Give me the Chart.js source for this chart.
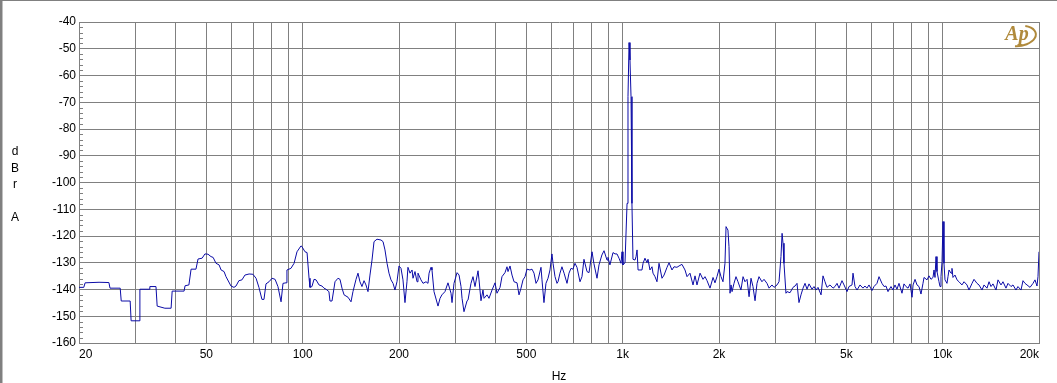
<!DOCTYPE html>
<html>
<head>
<meta charset="utf-8">
<script src="https://cdn.jsdelivr.net/npm/chart.js@4/dist/chart.umd.min.js"></script>
<style>
  html, body { margin: 0; padding: 0; background: #ffffff; }
  #wrap { position: relative; width: 1057px; height: 383px; }
</style>
</head>
<body>
<div id="wrap"><canvas id="c" width="1057" height="383"></canvas></div>
<script>
// ---- data ----
const freqHz = [
  20, 20.7, 20.9, 23.1, 24.8, 25.0, 26.9, 27.1, 28.9, 29.1, 30.8, 31.0, 33.1, 33.3, 34.8, 35.1, 37.1, 38.8, 39.1, 42.6,
  42.9, 44.1, 44.8, 46.4, 47.1, 48.5, 49.5, 50.6, 51.7, 52.5, 53.6, 54.8, 55.6, 56.8, 57.6, 59.7, 61.0, 61.9, 63.2, 64.6,
  66.0, 68.0, 69.9, 71.5, 73.0, 74.6, 75.7, 76.8, 78.5, 80.2, 82.0, 83.7, 85.6, 86.8, 88.7, 89.3, 91.9, 94.0, 96.0, 98.8,
  99.5, 101.7, 103.2, 104.7, 105.4, 106.9, 108.5, 110.1, 112.5, 114.9, 116.6, 118.3, 120.8, 121.7, 123.5, 126.2, 128.9, 130.8, 132.7, 134.7,
  138.6, 141.6, 143.6, 146.8, 148.9, 151.0, 153.2, 155.5, 157.7, 160.0, 162.3, 164.7, 167.1, 170.7, 175.7, 178.3, 180.8, 183.5, 186.1, 188.8,
  191.6, 194.3, 197.1, 200, 202.9, 205.8, 208.8, 211.8, 213.3, 216.5, 219.7, 221.2, 224.4, 227.7, 229.3, 234.2, 237.8, 242.9, 246.4, 248.3,
  251.8, 253.6, 257.3, 264.8, 268.7, 272.4, 278.4, 284.5, 290.8, 292.9, 297.1, 303.7, 308.1, 312.5, 314.8, 319.2, 326.4, 328.7, 335.7, 340.6,
  345.6, 353.2, 355.7, 360.8, 366.0, 368.8, 376.7, 382.2, 390.6, 399.1, 404.8, 413.8, 419.6, 428.8, 435.0, 438.2, 444.6, 451.0, 457.6, 467.6,
  474.3, 481.2, 488.2, 495.3, 502.4, 513.0, 520.8, 528.4, 536.0, 543.8, 555.6, 559.6, 567.6, 575.8, 584.4, 592.8, 601.2, 605.8, 614.6, 623.4,
  628.0, 637.0, 646.0, 656.0, 670.0, 679.6, 689.4, 699.4, 709.6, 719.8, 735.6, 746.2, 757.0, 773.6, 785.0, 802.2, 812.8, 831.4, 843.4, 861.2,
  874.4, 893.4, 899.6, 912.4, 932.8, 946.4, 960.0, 974.0, 988.0, 995.4, 1002, 1017, 1032, 1039, 1047, 1054, 1062, 1069, 1077, 1093,
  1101, 1109, 1117, 1149, 1158, 1174, 1191, 1200, 1217, 1235, 1244, 1262, 1280, 1299, 1327, 1347, 1376, 1396, 1426, 1447,
  1478, 1500, 1532, 1566, 1589, 1623, 1659, 1683, 1707, 1745, 1783, 1808, 1835, 1875, 1916, 1943, 1971, 2000, 2029, 2058,
  2088, 2104, 2133, 2149, 2165, 2181, 2197, 2228, 2260, 2293, 2342, 2378, 2411, 2447, 2483, 2518, 2554, 2592, 2629, 2667,
  2724, 2765, 2825, 2867, 2928, 2972, 3036, 3080, 3124, 3149, 3170, 3192, 3238, 3263, 3334, 3406, 3456, 3506, 3556, 3608,
  3661, 3714, 3768, 3822, 3906, 3962, 4020, 4078, 4168, 4227, 4288, 4350, 4446, 4543, 4608, 4676, 4743, 4846, 4918, 5024,
  5096, 5208, 5246, 5322, 5400, 5517, 5636, 5717, 5800, 5886, 6012, 6101, 6234, 6325, 6460, 6560, 6651, 6748, 6894, 6994,
  7096, 7198, 7304, 7462, 7570, 7679, 7795, 7908, 8022, 8081, 8197, 8314, 8434, 8556, 8680, 8743, 8934, 9064, 9194, 9328,
  9396, 9464, 9532, 9600, 9740, 9810, 9880, 9954, 10024, 10094, 10170, 10316, 10390, 10466, 10618, 10692, 10770, 10928, 11088, 11246,
  11486, 11662, 11914, 12084, 12352, 12530, 12802, 12988, 13272, 13466, 13758, 13960, 14158, 14362, 14678, 14890, 15214, 15434, 15772, 16000,
  16352, 16588, 16944, 17188, 17572, 17826, 18084, 18346, 18748, 19156, 19432, 19714, 19856, 20000
];
const levelDbrA = [
  -139.2, -139.2, -137.5, -137.3, -137.4, -139.5, -139.5, -144.3, -144.3, -151.7, -151.7, -139.9, -139.9, -138.9, -138.9, -146.2, -147.0, -147.0, -140.6, -140.6,
  -138.6, -138.3, -132.4, -132.4, -128.6, -128.3, -126.7, -126.8, -127.7, -128.0, -130.2, -130.8, -132.7, -133.3, -135.2, -138.7, -139.2, -138.7, -136.7, -136.4,
  -134.6, -134.2, -134.3, -135.8, -139.2, -143.7, -143.7, -137.9, -137.1, -135.8, -136.2, -138.9, -144.6, -137.7, -137.5, -132.7, -132.1, -130.2, -125.9, -123.7,
  -124.0, -125.9, -126.2, -135.8, -139.2, -138.9, -136.2, -136.4, -138.3, -138.7, -139.5, -139.9, -140.8, -144.3, -144.3, -137.1, -135.8, -136.2, -139.5, -142.0,
  -142.9, -144.6, -140.8, -136.2, -133.9, -137.1, -138.9, -136.7, -138.3, -140.8, -134.6, -129.0, -122.1, -121.2, -121.5, -122.1, -125.2, -130.2, -133.9, -136.4,
  -137.7, -140.2, -137.1, -131.2, -132.1, -136.4, -144.9, -137.1, -131.7, -133.9, -132.7, -135.8, -133.3, -137.1, -133.9, -136.4, -137.7, -137.1, -137.7, -133.9,
  -131.7, -132.7, -140.8, -146.2, -143.3, -142.0, -140.8, -137.5, -141.4, -144.9, -137.7, -133.7, -134.6, -138.9, -143.3, -148.3, -144.2, -143.9, -137.7, -135.2,
  -138.9, -133.0, -136.4, -144.2, -140.2, -143.3, -142.0, -143.3, -140.2, -137.5, -141.4, -139.2, -135.2, -133.7, -131.5, -133.3, -131.2, -134.6, -137.1, -137.5,
  -142.0, -139.5, -136.4, -135.2, -132.4, -132.7, -132.4, -133.9, -137.7, -136.4, -131.7, -136.4, -144.9, -137.7, -135.8, -132.7, -126.7, -130.2, -135.2, -137.7,
  -137.1, -133.9, -131.5, -133.9, -137.7, -133.9, -132.1, -132.4, -130.2, -131.7, -137.1, -135.2, -128.7, -133.3, -133.7, -125.9, -130.2, -135.8, -130.8, -127.1,
  -125.5, -129.0, -128.0, -130.8, -126.2, -126.7, -126.7, -128.3, -130.2, -125.9, -130.8, -130.0, -107.8, -67.9, -47.7, -54.2, -67.9, -107.8, -128.7, -129.0,
  -127.7, -125.2, -132.7, -132.7, -130.2, -128.3, -130.0, -128.7, -132.7, -131.5, -133.9, -135.2, -137.1, -130.2, -135.8, -134.6, -131.7, -130.0, -132.7, -131.5,
  -131.7, -131.2, -130.6, -132.7, -135.2, -133.9, -138.3, -134.9, -138.3, -133.9, -136.2, -135.2, -136.7, -139.5, -135.5, -137.5, -135.2, -132.4, -135.2, -137.1,
  -130.2, -116.5, -117.8, -124.0, -141.4, -138.3, -140.8, -137.7, -135.2, -137.1, -140.2, -135.2, -137.1, -136.2, -142.7, -135.8, -138.9, -144.2, -137.7, -135.2,
  -137.1, -136.2, -137.7, -139.5, -138.3, -139.2, -138.3, -137.1, -127.7, -119.0, -122.7, -130.2, -141.4, -140.8, -141.2, -139.2, -138.7, -137.7, -144.9, -142.0,
  -139.5, -137.7, -139.9, -137.9, -139.9, -138.9, -140.2, -139.2, -142.0, -134.9, -137.1, -139.2, -138.3, -139.5, -138.9, -137.7, -139.5, -136.7, -138.3, -140.8,
  -138.9, -138.3, -133.9, -138.9, -140.2, -138.3, -139.5, -138.7, -139.5, -138.3, -140.4, -138.9, -137.7, -135.2, -137.7, -138.9, -138.7, -140.8, -138.9, -140.2,
  -138.3, -139.9, -137.7, -141.4, -137.9, -138.9, -139.5, -137.9, -142.9, -138.3, -136.2, -138.3, -138.9, -141.7, -137.7, -135.5, -136.4, -134.9, -136.2, -135.5,
  -132.7, -135.5, -127.7, -133.3, -137.1, -138.9, -135.2, -129.6, -114.6, -130.2, -136.4, -137.7, -135.2, -132.7, -133.9, -132.1, -135.5, -134.6, -136.4, -137.1,
  -138.3, -137.1, -138.3, -140.2, -137.7, -136.2, -137.7, -138.3, -140.2, -138.3, -139.5, -137.1, -138.9, -137.9, -140.2, -136.4, -138.3, -137.1, -139.5, -137.7,
  -138.9, -138.3, -140.2, -138.9, -140.2, -136.7, -137.7, -138.3, -139.2, -137.7, -136.4, -138.7, -135.2, -125.9
];

// ---- axis ticks ----
const xGridHz = [20, 30, 40, 50, 60, 70, 80, 90, 100, 200, 300, 400, 500, 600, 700, 800, 900,
                 1000, 2000, 3000, 4000, 5000, 6000, 7000, 8000, 9000, 10000, 20000];
const xTickLabels = ['20', '', '', '50', '', '', '', '', '100', '200', '', '', '500', '', '', '', '',
                     '1k', '2k', '', '', '5k', '', '', '', '', '10k', '20k'];
const yMinDb = -160, yMaxDb = -40, yStepDb = 10, yMinorStepDb = 2;
const yTitleLetters = ['d', 'B', 'r', '', 'A'];
const xTitle = 'Hz';

const GRID = '#808080';
const FONT = { family: "'Liberation Sans', Arial, sans-serif", size: 12 };

const points = freqHz.map((f, i) => ({ x: f, y: levelDbrA[i] }));

const decor = {
  id: 'decor',
  beforeDatasetsDraw(chart) {
    const { ctx, chartArea, scales } = chart;
    const y = scales.y;
    ctx.save();
    ctx.strokeStyle = GRID;
    ctx.lineWidth = 1;
    ctx.beginPath();
    for (let v = yMinDb; v <= yMaxDb; v += yMinorStepDb) {
      if (v % yStepDb === 0) continue;
      const py = Math.round(y.getPixelForValue(v)) + 0.5;
      ctx.moveTo(chartArea.left, py);
      ctx.lineTo(chartArea.left + 4, py);
    }
    ctx.stroke();
    ctx.restore();
  },
  afterDraw(chart) {
    const { ctx } = chart;
    ctx.save();
    // y axis title, stacked letters
    ctx.fillStyle = '#000';
    ctx.font = "12px 'Liberation Sans', Arial, sans-serif";
    ctx.textAlign = 'center';
    ctx.textBaseline = 'middle';
    yTitleLetters.forEach((ch, i) => ctx.fillText(ch, 15, 152 + i * 16.3));
    // window frame
    ctx.fillStyle = '#808080';
    ctx.fillRect(0, 0, 1057, 1);
    ctx.fillRect(0, 0, 2, 383);
    ctx.fillStyle = '#c0c0c0';
    ctx.fillRect(2, 1, 1, 382);
    // AP logo
    ctx.fillStyle = '#b08a3c';
    ctx.strokeStyle = '#b08a3c';
    ctx.font = "italic bold 20px 'Liberation Serif', serif";
    ctx.textAlign = 'center';
    ctx.textBaseline = 'middle';
    ctx.fillText('Ap', 1017, 35);
    ctx.lineWidth = 2;
    ctx.beginPath();
    ctx.ellipse(1019, 36, 17, 10, -0.15, -1.1, 1.9);
    ctx.stroke();
    ctx.restore();
  }
};

new Chart(document.getElementById('c'), {
  type: 'line',
  data: {
    datasets: [{
      label: 'dBr A',
      data: points,
      borderColor: '#0b0ba6',
      borderWidth: 1,
      pointRadius: 0,
      tension: 0,
      fill: false
    }]
  },
  options: {
    responsive: false,
    animation: false,
    devicePixelRatio: 1,
    layout: { padding: { left: 0, top: 22, right: 18, bottom: 0 } },
    plugins: { legend: { display: false }, tooltip: { enabled: false }, title: { display: false } },
    scales: {
      x: {
        type: 'logarithmic',
        min: 20,
        max: 20000,
        afterBuildTicks(scale) { scale.ticks = xGridHz.map(v => ({ value: v })); },
        afterFit(scale) { scale.height = 40; },
        grid: { color: GRID, lineWidth: 1, drawTicks: false },
        border: { display: true, color: GRID },
        ticks: {
          autoSkip: false,
          maxRotation: 0,
          minRotation: 0,
          align: 'inner',
          padding: 4,
          color: '#000',
          font: FONT,
          callback: (v, i) => xTickLabels[i]
        },
        title: { display: true, text: xTitle, color: '#000', font: FONT, padding: { top: 0, bottom: -1 } }
      },
      y: {
        type: 'linear',
        min: yMinDb,
        max: yMaxDb,
        afterFit(scale) { scale.width = 79; },
        grid: { color: GRID, lineWidth: 1, drawTicks: false },
        border: { display: true, color: GRID },
        ticks: { stepSize: yStepDb, padding: 3, color: '#000', font: FONT }
      }
    }
  },
  plugins: [decor]
});
</script>
</body>
</html>
